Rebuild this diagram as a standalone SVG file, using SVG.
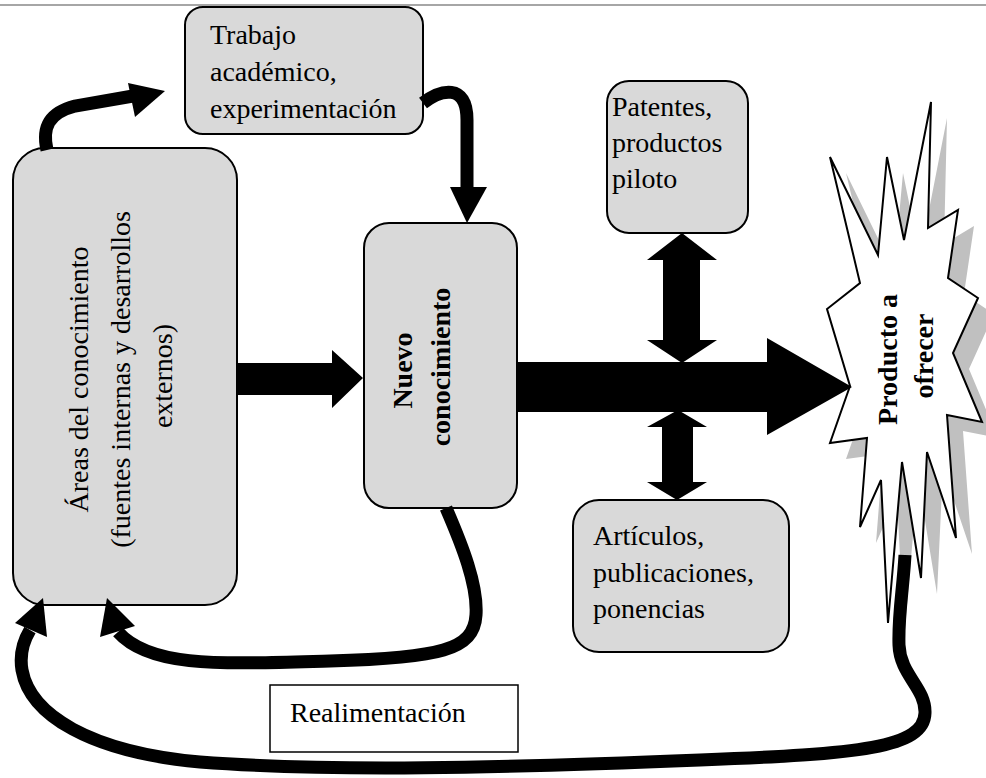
<svg xmlns="http://www.w3.org/2000/svg" width="986" height="778" viewBox="0 0 986 778">
  <style>
    .box { fill: #d9d9d9; stroke: #000; stroke-width: 2; }
    .lbl { font-family: 'Liberation Serif', 'DejaVu Serif', 'Times New Roman', serif; font-size: 28px; fill: #000; }
    .bold { font-weight: bold; }
    .curve { fill: none; stroke: #000; stroke-width: 13; stroke-linecap: butt; }
    .head { fill: #000; stroke: none; }
  </style>
  <defs>
    <polygon id="burst" points="931,102 928,228 958,210 948,278 978,298 953,353 982,422 947,415 956,538 927,452 921,578 902,462 888,623 881,480 860,527 867,438 830,443 850,386 827,309 860,283 830,157 878,255 887,157 904,240"/>
  </defs>

  <rect x="0" y="4" width="986" height="2" fill="#a6a6a6"/>

  <g id="areas">
    <rect class="box" x="13" y="148" width="224" height="457" rx="32"/>
    <text class="lbl" font-family="Liberation Serif, serif" transform="translate(88 376) rotate(-90)" text-anchor="middle">
      <tspan x="0" y="0">Áreas del conocimiento</tspan>
      <tspan x="0" y="42">(fuentes internas y desarrollos</tspan>
      <tspan x="0" y="84">externos)</tspan>
    </text>
  </g>

  <g id="trabajo">
    <rect class="box" x="185" y="7" width="238" height="127" rx="18"/>
    <text class="lbl" font-family="Liberation Serif, serif">
      <tspan x="210" y="44">Trabajo</tspan>
      <tspan x="210" y="81">académico,</tspan>
      <tspan x="210" y="118">experimentación</tspan>
    </text>
  </g>

  <g id="nuevo">
    <rect class="box" x="364" y="223" width="153" height="285" rx="25"/>
    <text class="lbl bold" font-family="Liberation Serif, serif" transform="translate(412 367) rotate(-90)" text-anchor="middle">
      <tspan x="0" y="0">Nuevo</tspan>
      <tspan x="0" y="38">conocimiento</tspan>
    </text>
  </g>

  <g id="patentes">
    <rect class="box" x="607" y="81" width="141" height="152" rx="22"/>
    <text class="lbl" font-family="Liberation Serif, serif">
      <tspan x="612" y="116">Patentes,</tspan>
      <tspan x="612" y="152">productos</tspan>
      <tspan x="612" y="188">piloto</tspan>
    </text>
  </g>

  <g id="articulos">
    <rect class="box" x="573" y="500" width="216" height="152" rx="26"/>
    <text class="lbl" font-family="Liberation Serif, serif">
      <tspan x="593" y="545">Artículos,</tspan>
      <tspan x="593" y="582">publicaciones,</tspan>
      <tspan x="593" y="618">ponencias</tspan>
    </text>
  </g>

  <g id="producto">
    <use href="#burst" transform="translate(16 16)" fill="#c0c0c0"/>
    <use href="#burst" fill="#fff" stroke="#000" stroke-width="2" stroke-linejoin="miter"/>
    <text class="lbl bold" font-family="Liberation Serif, serif" transform="translate(897 356) rotate(-90)" text-anchor="middle">
      <tspan x="0" y="0">Producto a</tspan>
      <tspan x="0" y="36">ofrecer</tspan>
    </text>
  </g>

  <g id="realimentacion">
    <rect x="270" y="685" width="248" height="67" fill="#fff" stroke="#000" stroke-width="1.5"/>
    <text class="lbl" font-family="Liberation Serif, serif" x="290" y="722">Realimentación</text>
  </g>

  <g id="connectors">
    <!-- Áreas -> Trabajo -->
    <path class="curve" d="M 47 150 C 42 128, 48 113, 75 106 L 133 96"/>
    <polygon class="head" points="128,83 165,91 135,117"/>
    <!-- Trabajo -> Nuevo -->
    <path class="curve" d="M 423 103 C 440 90, 467 82, 467 120 L 467 190"/>
    <polygon class="head" points="450,187 487,187 467,223"/>
    <!-- Áreas -> Nuevo -->
    <polygon class="head" points="237,363 332,363 332,350 363,378 332,408 332,395 237,395"/>
    <!-- Nuevo -> Producto -->
    <polygon class="head" points="517,362 767,362 767,338 852,387 767,435 767,412 517,412"/>
    <!-- two-way: Patentes -->
    <polygon class="head" points="682,233 717,260 700,260 700,340 717,340 682,363 647,340 663,340 663,260 647,260"/>
    <!-- two-way: Artículos -->
    <polygon class="head" points="678,410 707,427 693,427 693,482 707,482 677,500 647,482 662,482 662,427 647,427"/>
    <!-- feedback from Nuevo -->
    <path class="curve" d="M 446 508 C 462 545, 478 585, 476 615 C 474 650, 440 658, 330 661 C 220 664, 150 668, 118 632"/>
    <polygon class="head" points="100,637 107,598 135,626"/>
    <!-- feedback from Producto -->
    <path class="curve" d="M 905 555 C 903 590, 898 615, 899 645 C 900 675, 926 688, 925 713 C 924 748, 860 754, 700 760 C 500 768, 330 772, 200 762 C 90 752, 30 715, 22 670 C 19 652, 24 640, 30 630"/>
    <polygon class="head" points="15,623 43,598 47,637"/>
  </g>
</svg>
